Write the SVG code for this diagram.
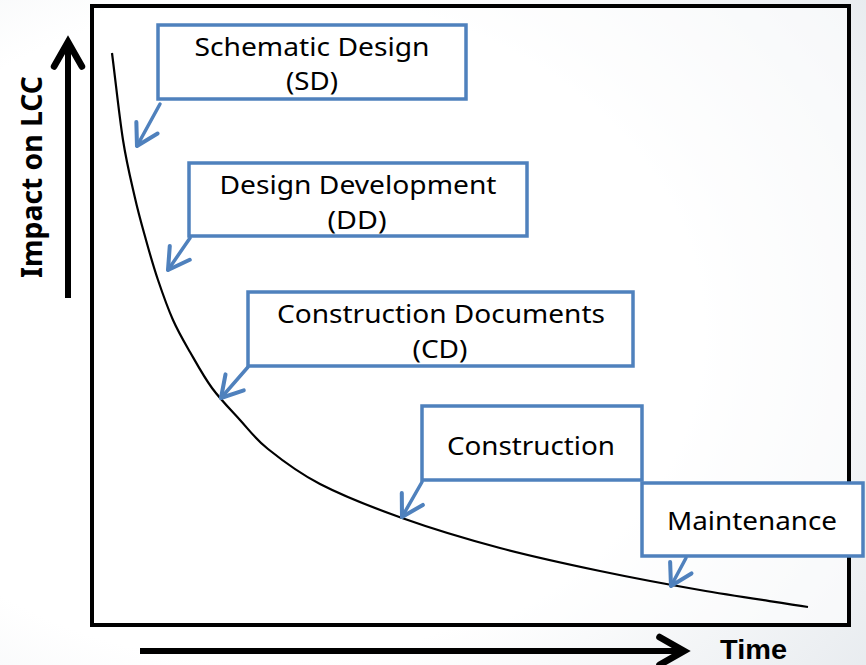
<svg xmlns="http://www.w3.org/2000/svg" width="866" height="665" viewBox="0 0 866 665">
  <defs>
    <radialGradient id="bg" cx="0.3" cy="0.5" r="0.9">
      <stop offset="0.55" stop-color="#ffffff"/>
      <stop offset="1" stop-color="#e6eaee"/>
    </radialGradient>
    <marker id="blueHead" markerUnits="userSpaceOnUse" markerWidth="30" markerHeight="30" viewBox="-22 -13 26 26" refX="0" refY="0" orient="auto">
      <path d="M-18,-10.5 L0,0 L-18,10.5" fill="none" stroke="#4F81BD" stroke-width="3.5" stroke-linecap="round" stroke-linejoin="round"/>
    </marker>
    <marker id="blackHead" markerUnits="userSpaceOnUse" markerWidth="40" markerHeight="40" viewBox="-30 -18 36 36" refX="0" refY="0" orient="auto">
      <path d="M-22,-12.5 L0,0 L-22,12.5" fill="none" stroke="#000" stroke-width="6" stroke-linecap="round" stroke-linejoin="miter"/>
    </marker>
  </defs>
  <style>
    .box { fill: #ffffff; stroke: #4F81BD; stroke-width: 3.5; }
    .lbl { font-family: "Noto Sans", "Open Sans", "DejaVu Sans", sans-serif; font-size: 26px; fill: #000; text-anchor: middle; }
    .axis { font-family: "Noto Sans", "Open Sans", "DejaVu Sans", sans-serif; font-size: 29px; font-weight: bold; fill: #000; }
    .time { font-family: "Liberation Sans", Arial, sans-serif; font-size: 28px; font-weight: bold; fill: #000; }
    .conn { fill: none; stroke: #4F81BD; stroke-width: 3.5; stroke-linecap: round; marker-end: url(#blueHead); }
    .axisLine { fill: none; stroke: #000; stroke-width: 6; marker-end: url(#blackHead); }
  </style>

  <rect x="0" y="0" width="866" height="665" fill="url(#bg)"/>

  <g id="frame">
    <rect x="92" y="6" width="757" height="619" fill="#ffffff" fill-opacity="0.6" stroke="#000" stroke-width="4"/>
  </g>

  <g id="axes">
    <line class="axisLine" x1="68" y1="298" x2="68" y2="42"/>
    <line class="axisLine" x1="140" y1="651" x2="684" y2="651"/>
    <text class="time" x="720" y="658.5" textLength="67" lengthAdjust="spacingAndGlyphs">Time</text>
    <text class="axis" transform="translate(42,278) rotate(-90)" x="0" y="0" textLength="202" lengthAdjust="spacingAndGlyphs">Impact on LCC</text>
  </g>

  <g id="curve">
    <path d="M112,53 C115.7,82 119.2,115.8 123,140 C126.8,164.2 131.2,181.3 135,198 C138.8,214.7 142.2,226.3 146,240 C149.8,253.7 153.5,266.7 158,280 C162.5,293.3 167.7,308 173,320 C178.3,332 183.5,340.7 190,352 C196.5,363.3 203.7,376.7 212,388 C220.3,399.3 230.7,409.8 240,420 C249.3,430.2 254.7,438.3 268,449 C281.3,459.7 297.7,472.5 320,484 C342.3,495.5 372,507.3 402,518 C432,528.7 467,539.2 500,548 C533,556.8 566.7,564 600,571 C633.3,578 665.3,584 700,590 C734.7,596 772,601.3 808,607" fill="none" stroke="#000" stroke-width="2.2"/>
  </g>

  <g id="connectors">
    <line class="conn" x1="160" y1="104" x2="137" y2="146"/>
    <line class="conn" x1="190" y1="238" x2="168" y2="270"/>
    <line class="conn" x1="248" y1="367" x2="221" y2="398"/>
    <line class="conn" x1="422" y1="482" x2="402" y2="517"/>
    <line class="conn" x1="686" y1="558" x2="671" y2="586"/>
  </g>

  <g id="node-sd">
    <rect class="box" x="158" y="25" width="308" height="74"/>
    <text class="lbl" x="312" y="56" textLength="235" lengthAdjust="spacingAndGlyphs">Schematic Design</text>
    <text class="lbl" x="312" y="90" textLength="52" lengthAdjust="spacingAndGlyphs">(SD)</text>
  </g>

  <g id="node-dd">
    <rect class="box" x="189" y="163" width="338" height="73"/>
    <text class="lbl" x="358" y="194" textLength="277" lengthAdjust="spacingAndGlyphs">Design Development</text>
    <text class="lbl" x="357" y="229" textLength="59" lengthAdjust="spacingAndGlyphs">(DD)</text>
  </g>

  <g id="node-cd">
    <rect class="box" x="248" y="292" width="385" height="74"/>
    <text class="lbl" x="441" y="323" textLength="328" lengthAdjust="spacingAndGlyphs">Construction Documents</text>
    <text class="lbl" x="440" y="358" textLength="55" lengthAdjust="spacingAndGlyphs">(CD)</text>
  </g>

  <g id="node-construction">
    <rect class="box" x="422" y="406" width="220" height="74"/>
    <text class="lbl" x="531" y="455" textLength="168" lengthAdjust="spacingAndGlyphs">Construction</text>
  </g>

  <g id="node-maintenance">
    <rect class="box" x="642" y="483" width="221" height="73"/>
    <text class="lbl" x="752" y="530" textLength="170" lengthAdjust="spacingAndGlyphs">Maintenance</text>
  </g>
</svg>
